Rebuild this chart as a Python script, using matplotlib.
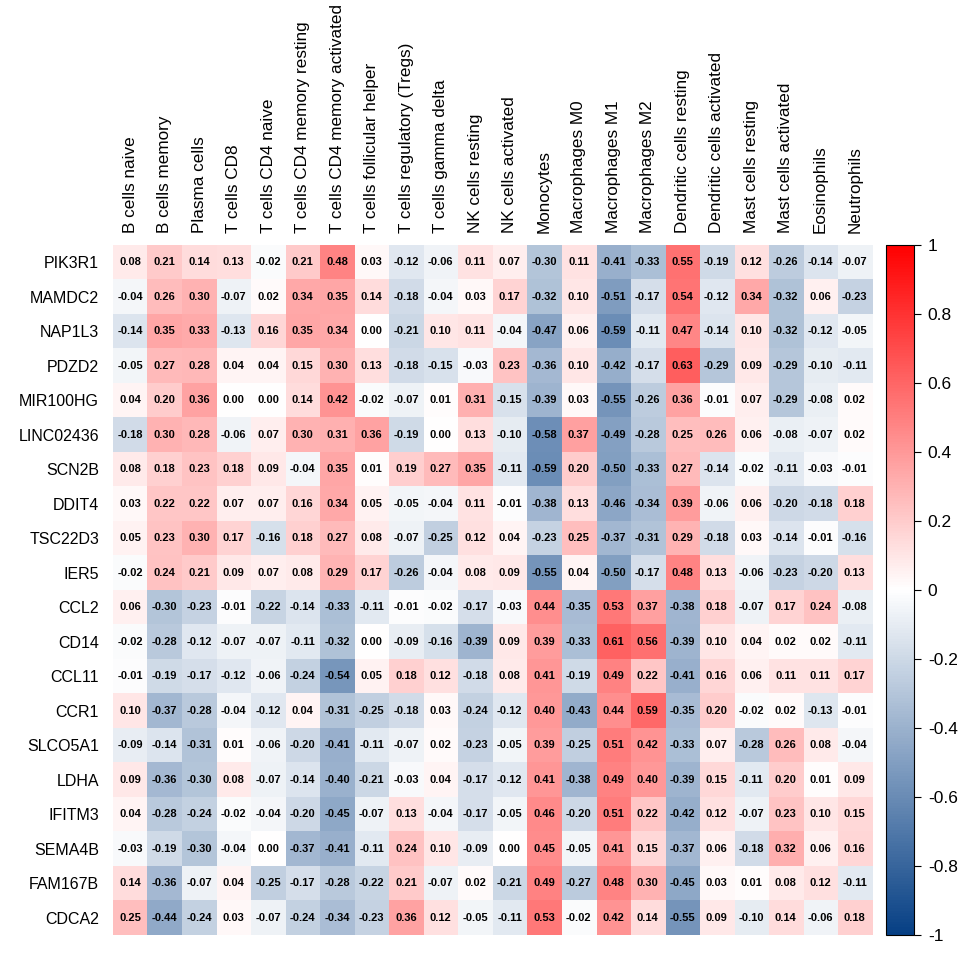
import numpy as np
import matplotlib.pyplot as plt
from matplotlib.colors import LinearSegmentedColormap

plt.rcParams['font.family'] = ['Liberation Sans', 'DejaVu Sans']

genes = ["PIK3R1", "MAMDC2", "NAP1L3", "PDZD2", "MIR100HG", "LINC02436", "SCN2B",
         "DDIT4", "TSC22D3", "IER5", "CCL2", "CD14", "CCL11", "CCR1", "SLCO5A1",
         "LDHA", "IFITM3", "SEMA4B", "FAM167B", "CDCA2"]

cells = ["B cells naive", "B cells memory", "Plasma cells", "T cells CD8",
         "T cells CD4 naive", "T cells CD4 memory resting", "T cells CD4 memory activated",
         "T cells follicular helper", "T cells regulatory (Tregs)", "T cells gamma delta",
         "NK cells resting", "NK cells activated", "Monocytes", "Macrophages M0",
         "Macrophages M1", "Macrophages M2", "Dendritic cells resting",
         "Dendritic cells activated", "Mast cells resting", "Mast cells activated",
         "Eosinophils", "Neutrophils"]

corr = np.array([
    [0.08, 0.21, 0.14, 0.13, -0.02, 0.21, 0.48, 0.03, -0.12, -0.06, 0.11, 0.07, -0.30, 0.11, -0.41, -0.33, 0.55, -0.19, 0.12, -0.26, -0.14, -0.07],
    [-0.04, 0.26, 0.30, -0.07, 0.02, 0.34, 0.35, 0.14, -0.18, -0.04, 0.03, 0.17, -0.32, 0.10, -0.51, -0.17, 0.54, -0.12, 0.34, -0.32, 0.06, -0.23],
    [-0.14, 0.35, 0.33, -0.13, 0.16, 0.35, 0.34, 0.00, -0.21, 0.10, 0.11, -0.04, -0.47, 0.06, -0.59, -0.11, 0.47, -0.14, 0.10, -0.32, -0.12, -0.05],
    [-0.05, 0.27, 0.28, 0.04, 0.04, 0.15, 0.30, 0.13, -0.18, -0.15, -0.03, 0.23, -0.36, 0.10, -0.42, -0.17, 0.63, -0.29, 0.09, -0.29, -0.10, -0.11],
    [0.04, 0.20, 0.36, 0.00, 0.00, 0.14, 0.42, -0.02, -0.07, 0.01, 0.31, -0.15, -0.39, 0.03, -0.55, -0.26, 0.36, -0.01, 0.07, -0.29, -0.08, 0.02],
    [-0.18, 0.30, 0.28, -0.06, 0.07, 0.30, 0.31, 0.36, -0.19, 0.00, 0.13, -0.10, -0.58, 0.37, -0.49, -0.28, 0.25, 0.26, 0.06, -0.08, -0.07, 0.02],
    [0.08, 0.18, 0.23, 0.18, 0.09, -0.04, 0.35, 0.01, 0.19, 0.27, 0.35, -0.11, -0.59, 0.20, -0.50, -0.33, 0.27, -0.14, -0.02, -0.11, -0.03, -0.01],
    [0.03, 0.22, 0.22, 0.07, 0.07, 0.16, 0.34, 0.05, -0.05, -0.04, 0.11, -0.01, -0.38, 0.13, -0.46, -0.34, 0.39, -0.06, 0.06, -0.20, -0.18, 0.18],
    [0.05, 0.23, 0.30, 0.17, -0.16, 0.18, 0.27, 0.08, -0.07, -0.25, 0.12, 0.04, -0.23, 0.25, -0.37, -0.31, 0.29, -0.18, 0.03, -0.14, -0.01, -0.16],
    [-0.02, 0.24, 0.21, 0.09, 0.07, 0.08, 0.29, 0.17, -0.26, -0.04, 0.08, 0.09, -0.55, 0.04, -0.50, -0.17, 0.48, 0.13, -0.06, -0.23, -0.20, 0.13],
    [0.06, -0.30, -0.23, -0.01, -0.22, -0.14, -0.33, -0.11, -0.01, -0.02, -0.17, -0.03, 0.44, -0.35, 0.53, 0.37, -0.38, 0.18, -0.07, 0.17, 0.24, -0.08],
    [-0.02, -0.28, -0.12, -0.07, -0.07, -0.11, -0.32, 0.00, -0.09, -0.16, -0.39, 0.09, 0.39, -0.33, 0.61, 0.56, -0.39, 0.10, 0.04, 0.02, 0.02, -0.11],
    [-0.01, -0.19, -0.17, -0.12, -0.06, -0.24, -0.54, 0.05, 0.18, 0.12, -0.18, 0.08, 0.41, -0.19, 0.49, 0.22, -0.41, 0.16, 0.06, 0.11, 0.11, 0.17],
    [0.10, -0.37, -0.28, -0.04, -0.12, 0.04, -0.31, -0.25, -0.18, 0.03, -0.24, -0.12, 0.40, -0.43, 0.44, 0.59, -0.35, 0.20, -0.02, 0.02, -0.13, -0.01],
    [-0.09, -0.14, -0.31, 0.01, -0.06, -0.20, -0.41, -0.11, -0.07, 0.02, -0.23, -0.05, 0.39, -0.25, 0.51, 0.42, -0.33, 0.07, -0.28, 0.26, 0.08, -0.04],
    [0.09, -0.36, -0.30, 0.08, -0.07, -0.14, -0.40, -0.21, -0.03, 0.04, -0.17, -0.12, 0.41, -0.38, 0.49, 0.40, -0.39, 0.15, -0.11, 0.20, 0.01, 0.09],
    [0.04, -0.28, -0.24, -0.02, -0.04, -0.20, -0.45, -0.07, 0.13, -0.04, -0.17, -0.05, 0.46, -0.20, 0.51, 0.22, -0.42, 0.12, -0.07, 0.23, 0.10, 0.15],
    [-0.03, -0.19, -0.30, -0.04, 0.00, -0.37, -0.41, -0.11, 0.24, 0.10, -0.09, 0.00, 0.45, -0.05, 0.41, 0.15, -0.37, 0.06, -0.18, 0.32, 0.06, 0.16],
    [0.14, -0.36, -0.07, 0.04, -0.25, -0.17, -0.28, -0.22, 0.21, -0.07, 0.02, -0.21, 0.49, -0.27, 0.48, 0.30, -0.45, 0.03, 0.01, 0.08, 0.12, -0.11],
    [0.25, -0.44, -0.24, 0.03, -0.07, -0.24, -0.34, -0.23, 0.36, 0.12, -0.05, -0.11, 0.53, -0.02, 0.42, 0.14, -0.55, 0.09, -0.10, 0.14, -0.06, 0.18],
])

cmap = LinearSegmentedColormap.from_list("bwr2", ["#063f84", "#ffffff", "#ff0000"])

fig = plt.figure(figsize=(9.69, 9.65), dpi=100)
ax = fig.add_axes([0.1166, 0.0311, 0.7833, 0.715])
im = ax.imshow(corr, cmap=cmap, vmin=-1, vmax=1, aspect='auto', interpolation='nearest')

for i in range(len(genes)):
    for j in range(len(cells)):
        ax.text(j, i, f"{corr[i, j]:.2f}", ha='center', va='center',
                fontsize=8, fontweight='bold', color='black')

ax.set_xticks(np.arange(len(cells)))
ax.set_xticklabels(cells, rotation=90, fontsize=12.3)
ax.set_yticks(np.arange(len(genes)))
ax.set_yticklabels(genes, fontsize=11.5)
ax.xaxis.tick_top()
ax.tick_params(length=0)
ax.tick_params(axis='x', pad=9)
ax.tick_params(axis='y', pad=10)
for s in ax.spines.values():
    s.set_visible(False)

cax = fig.add_axes([0.9143, 0.0311, 0.0289, 0.715])
cb = fig.colorbar(im, cax=cax)
cb.set_ticks(np.round(np.arange(-1, 1.01, 0.2), 1))
cb.set_ticklabels(["-1", "-0.8", "-0.6", "-0.4", "-0.2", "0", "0.2", "0.4", "0.6", "0.8", "1"])
cb.ax.tick_params(labelsize=12.5, length=5, width=0.8, pad=5)
cb.outline.set_linewidth(0.8)

fig.savefig("out.png", dpi=100)
